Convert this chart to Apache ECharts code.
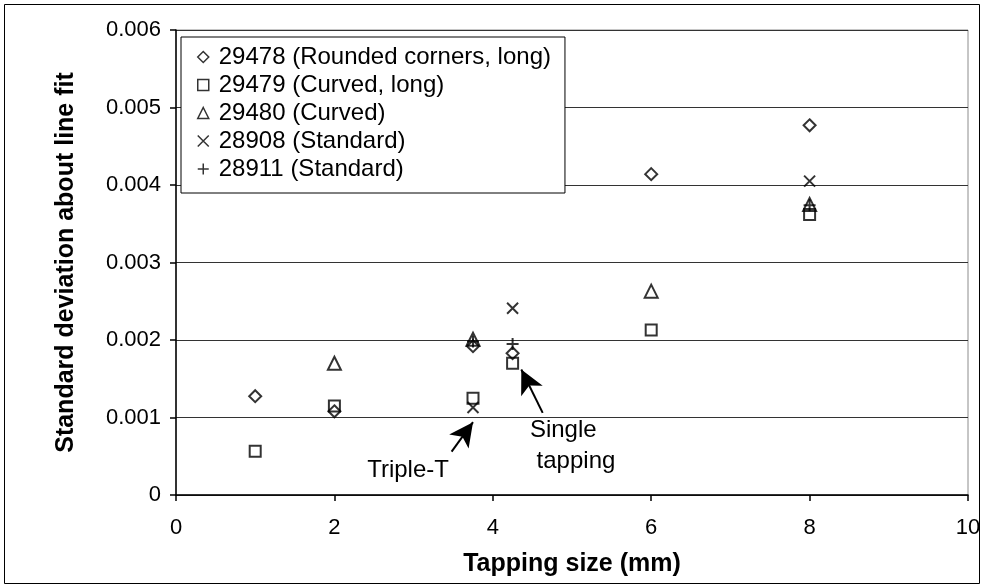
<!DOCTYPE html>
<html>
<head>
<meta charset="utf-8">
<script src="https://cdn.jsdelivr.net/npm/echarts@6/dist/echarts.min.js"></script>
<style>
  html, body { margin: 0; padding: 0; background: #fff; }
  #chart { width: 984px; height: 588px; }
</style>
</head>
<body>
<div id="chart"></div>
<script>
// Tapping size (mm) vs. standard deviation about the line fit, per specimen
const s29478 = [[1, 0.001275], [2, 0.00108], [3.75, 0.00192], [4.25, 0.00183], [6, 0.00414], [8, 0.00477]];
const s29479 = [[1, 0.000565], [2, 0.00115], [3.75, 0.00125], [4.25, 0.0017], [6, 0.00213], [8, 0.00362]];
const s29480 = [[2, 0.0017], [3.75, 0.00201], [6, 0.00263], [8, 0.00375]];
const s28908 = [[3.75, 0.00113], [4.25, 0.00241], [8, 0.00405]];
const s28911 = [[3.75, 0.00198], [4.25, 0.00195], [8, 0.00374]];

const seriesNames = [
  '29478 (Rounded corners, long)',
  '29479 (Curved, long)',
  '29480 (Curved)',
  '28908 (Standard)',
  '28911 (Standard)'
];

// Annotation labels and arrows, in data units
const noteTexts = [
  { text: 'Triple-T', at: [2.93, 0.00032] },
  { text: 'Single', at: [4.89, 0.00084] },
  { text: 'tapping', at: [5.05, 0.00044] }
];
const noteArrows = [
  { from: [3.48, 0.00056], to: [3.75, 0.00094] },
  { from: [4.63, 0.00106], to: [4.36, 0.00162] }
];

const FONT = 'Liberation Sans, Arial, sans-serif';
const INK = '#000';

const crossPath = 'path://M0,0L10,10M10,0L0,10';
const plusPath = 'path://M5,0L5,10M0,5L10,5';

function scatter(name, data, symbol, size) {
  return {
    name: name,
    type: 'scatter',
    data: data,
    symbol: symbol,
    symbolSize: size,
    itemStyle: { color: 'rgba(0,0,0,0)', borderColor: INK, borderWidth: 2 },
    emphasis: { disabled: true },
    z: 3
  };
}

const chart = echarts.init(document.getElementById('chart'), null, { renderer: 'canvas' });

const series = [
  scatter(seriesNames[0], s29478, 'diamond', 12),
  scatter(seriesNames[1], s29479, 'rect', 11),
  scatter(seriesNames[2], s29480, 'triangle', 13),
  scatter(seriesNames[3], s28908, crossPath, 11),
  scatter(seriesNames[4], s28911, plusPath, 12)
];

// arrows drawn through the axis scales
series.push({
  type: 'scatter',
  data: [],
  silent: true,
  markLine: {
    silent: true,
    animation: false,
    symbol: ['none', 'arrow'],
    symbolSize: [18, 24],
    lineStyle: { color: INK, width: 2, type: 'solid' },
    label: { show: false },
    data: noteArrows.map(a => [{ coord: a.from }, { coord: a.to }])
  }
});

chart.setOption({
  animation: false,
  backgroundColor: '#fff',
  textStyle: { fontFamily: FONT },
  grid: {
    left: 176, top: 30, width: 792, height: 465,
    show: true, borderColor: '#8c8c8c', borderWidth: 1, backgroundColor: '#fff'
  },
  legend: {
    orient: 'vertical',
    left: 181, top: 37,
    padding: [8, 14, 12, 16],
    itemGap: 4,
    itemWidth: 11,
    itemHeight: 11,
    backgroundColor: '#fff',
    borderColor: INK,
    borderWidth: 1,
    borderRadius: 0,
    selectedMode: false,
    itemStyle: { borderWidth: 1.5 },
    textStyle: { fontSize: 24, color: INK, fontFamily: FONT, lineHeight: 24, padding: [0, 0, 0, 5] },
    data: seriesNames
  },
  xAxis: {
    type: 'value',
    min: 0, max: 10, interval: 2,
    name: 'Tapping size (mm)',
    nameLocation: 'middle',
    nameGap: 57,
    nameTextStyle: { fontSize: 25, fontWeight: 'bold', color: INK, fontFamily: FONT },
    axisLine: { show: true, onZero: false, lineStyle: { color: INK, width: 1.5 } },
    axisTick: { show: true, length: 6, lineStyle: { color: INK, width: 1.5 } },
    axisLabel: { fontSize: 22, color: INK, margin: 22, fontFamily: FONT },
    splitLine: { show: false }
  },
  yAxis: {
    type: 'value',
    min: 0, max: 0.006, interval: 0.001,
    name: 'Standard deviation about line fit',
    nameLocation: 'middle',
    nameGap: 97,
    nameRotate: 90,
    nameTextStyle: { fontSize: 25, fontWeight: 'bold', color: INK, fontFamily: FONT },
    axisLine: { show: true, onZero: false, lineStyle: { color: INK, width: 1.5 } },
    axisTick: { show: true, length: 6, lineStyle: { color: INK, width: 1.5 } },
    axisLabel: {
      fontSize: 22, color: INK, margin: 15, fontFamily: FONT,
      formatter: v => (Math.abs(v) < 1e-12 ? '0' : v.toFixed(3))
    },
    splitLine: { show: true, lineStyle: { color: '#333', width: 1 } }
  },
  series: series
});

// annotation text placed from data coordinates
const texts = noteTexts.map(n => {
  const p = chart.convertToPixel({ gridIndex: 0 }, n.at);
  return {
    type: 'text',
    x: p[0], y: p[1],
    z: 10,
    style: {
      text: n.text,
      fontSize: 24,
      fontFamily: FONT,
      fill: INK,
      align: 'center',
      verticalAlign: 'middle'
    }
  };
});

chart.setOption({
  graphic: [
    {
      type: 'rect',
      shape: { x: 4.5, y: 4.5, width: 975, height: 579 },
      style: { fill: 'none', stroke: INK, lineWidth: 1 },
      silent: true
    }
  ].concat(texts)
});
</script>
</body>
</html>
